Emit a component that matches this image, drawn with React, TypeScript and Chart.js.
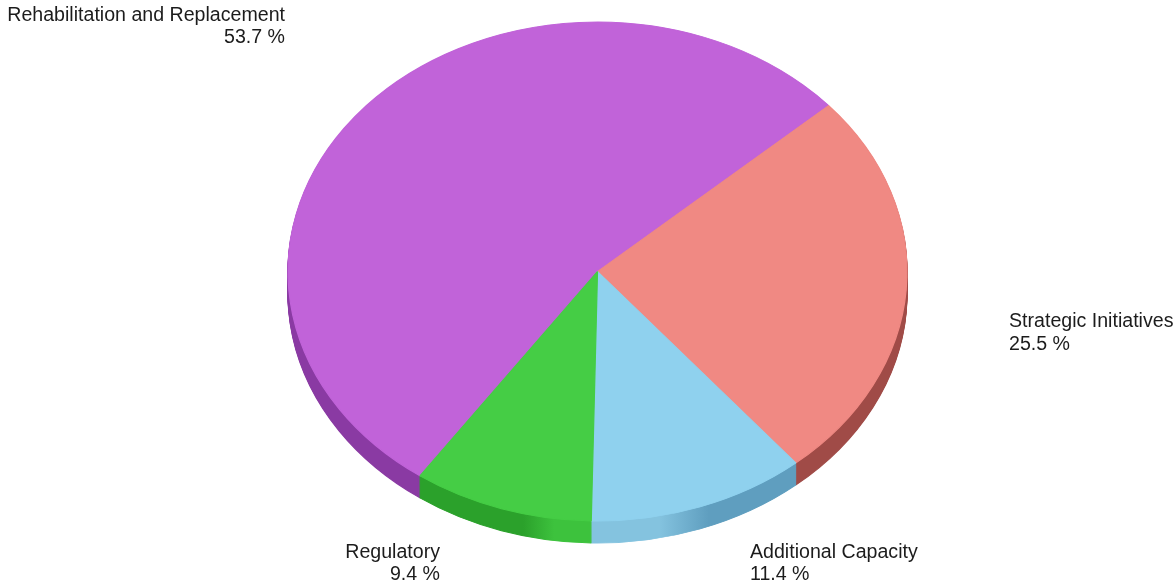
import { useEffect, useRef } from 'react';
import { Chart, registerables } from 'chart.js';

Chart.register(...registerables);

// Capital programme split by category (share of total, %)
const categories = [
  'Rehabilitation and Replacement',
  'Strategic Initiatives',
  'Additional Capacity',
  'Regulatory',
];
const shares = [53.7, 25.5, 11.4, 9.4];

// Top face colours and the darker tones used for the pie's rim
const faceColors = ['#c163d9', '#f08983', '#8fd1ee', '#45cd45'];
const rimDark = ['#8a3aa3', '#a04b47', '#5f9ebf', '#2ba12b'];
const rimLight = ['#a64cc0', '#c0625d', '#84c3df', '#3dc23d'];

const WIDTH = 1175;
const HEIGHT = 583;
const RADIUS_Y = 249.5; // vertical radius of the top face
const STRETCH_X = 309.5 / 249.5; // horizontal stretch that turns the disc into an ellipse
const DEPTH = 22; // thickness of the rim in px
const START_ANGLE = 215;

const FONT = '19.6px Arial, "Liberation Sans", sans-serif';
const LINE_GAP = 22.5;

// Label anchors relative to the pie centre: [dx, dy of first baseline, alignment]
const labelLayout: [number, number, CanvasTextAlign][] = [
  [-312.5, -251, 'right'],
  [411.5, 55.5, 'left'],
  [152.5, 286, 'left'],
  [-157.5, 286, 'right'],
];

function rimGradient(ctx: CanvasRenderingContext2D, x: number, r: number, i: number) {
  const g = ctx.createLinearGradient(x - r, 0, x + r, 0);
  g.addColorStop(0, rimDark[i]);
  g.addColorStop(0.38, rimDark[i]);
  g.addColorStop(0.43, rimLight[i]);
  g.addColorStop(0.6, rimLight[i]);
  g.addColorStop(0.68, rimDark[i]);
  g.addColorStop(1, rimDark[i]);
  return g;
}

// Squashes the pie into a tilted ellipse and draws its rim underneath
const tiltedPie = {
  id: 'tiltedPie',
  beforeDatasetsDraw(chart: any) {
    const meta = chart.getDatasetMeta(0);
    const first = meta.data[0];
    if (!first) return;
    const { x, y, outerRadius } = first;
    const ctx: CanvasRenderingContext2D = chart.ctx;
    ctx.save();
    ctx.translate(x, y);
    ctx.scale(STRETCH_X, 1);
    ctx.translate(-x, -y);
    const fills = meta.data.map((_: any, i: number) => rimGradient(ctx, x, outerRadius, i));
    for (let d = DEPTH; d >= 1; d--) {
      ctx.save();
      ctx.translate(0, d);
      meta.data.forEach((arc: any, i: number) => {
        const saved = arc.options;
        arc.options = { ...saved, backgroundColor: fills[i], borderColor: fills[i] };
        arc.draw(ctx);
        arc.options = saved;
      });
      ctx.restore();
    }
  },
  afterDatasetsDraw(chart: any) {
    if (chart.getDatasetMeta(0).data[0]) chart.ctx.restore();
  },
};

// Category name and percentage beside each slice
const sliceLabels = {
  id: 'sliceLabels',
  afterDraw(chart: any) {
    const meta = chart.getDatasetMeta(0);
    const first = meta.data[0];
    if (!first) return;
    const ctx: CanvasRenderingContext2D = chart.ctx;
    ctx.save();
    ctx.font = FONT;
    ctx.fillStyle = '#1c1c1c';
    ctx.textBaseline = 'alphabetic';
    categories.forEach((name, i) => {
      const [dx, dy, align] = labelLayout[i];
      ctx.textAlign = align;
      ctx.fillText(name, first.x + dx, first.y + dy);
      ctx.fillText(`${shares[i].toFixed(1)} %`, first.x + dx, first.y + dy + LINE_GAP);
    });
    ctx.restore();
  },
};

export default function App() {
  const canvasRef = useRef<HTMLCanvasElement | null>(null);

  useEffect(() => {
    const canvas = canvasRef.current;
    if (!canvas) return;
    const chart = new Chart(canvas, {
      type: 'pie',
      data: {
        labels: categories,
        datasets: [
          {
            data: shares,
            backgroundColor: faceColors,
            borderColor: faceColors,
            borderWidth: 1,
            hoverOffset: 0,
          },
        ],
      },
      options: {
        responsive: false,
        animation: false,
        devicePixelRatio: 1,
        events: [],
        rotation: START_ANGLE,
        radius: RADIUS_Y,
        layout: { padding: { top: 21.5, bottom: 61.5, left: 20, right: 0 } },
        plugins: {
          legend: { display: false },
          tooltip: { enabled: false },
        },
      },
      plugins: [tiltedPie, sliceLabels],
    });
    return () => chart.destroy();
  }, []);

  return (
    <div style={{ position: 'fixed', left: 0, top: 0, width: WIDTH, height: HEIGHT, background: '#fff' }}>
      <canvas ref={canvasRef} width={WIDTH} height={HEIGHT} style={{ display: 'block' }} />
    </div>
  );
}
